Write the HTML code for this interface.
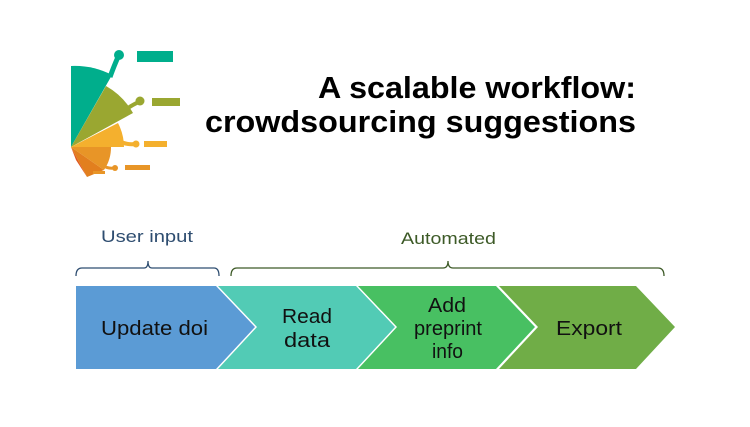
<!DOCTYPE html>
<html><head><style>
body{margin:0;width:750px;height:422px;background:#fff;overflow:hidden;font-family:"Liberation Sans",sans-serif}
</style></head><body>
<svg width="750" height="422" viewBox="0 0 750 422" xmlns="http://www.w3.org/2000/svg">
<g>
<path d="M71,147 L71,66 A81,81 0 0 1 112,75 Z" fill="#00ae8c"/>
<path d="M110,77 Q114,66 118,57" stroke="#00ae8c" stroke-width="5" fill="none"/>
<circle cx="119" cy="55" r="5" fill="#00ae8c"/>
<path d="M71,147 L106,86 A71,71 0 0 1 133,113 Z" fill="#9aa731"/>
<path d="M128,108 Q134,104 139,102" stroke="#9aa731" stroke-width="4" fill="none"/>
<circle cx="140" cy="101" r="4.5" fill="#9aa731"/>
<path d="M71,147 L118,123 A53,53 0 0 1 124,147 Z" fill="#f4b02e"/>
<path d="M121,142 Q128,145 135,144" stroke="#f4b02e" stroke-width="4" fill="none"/>
<circle cx="136" cy="144" r="3.5" fill="#f4b02e"/>
<path d="M71,147 L111,147 A40,40 0 0 1 104,170 Z" fill="#e89527"/>
<path d="M71,147 L104,170 L87,177 Z" fill="#e27f1e"/>
<path d="M71,147 L87,177 L76,160 Z" fill="#e05a1f"/>
<path d="M102,165 Q108,169 114,168" stroke="#e89527" stroke-width="3" fill="none"/>
<circle cx="115" cy="168" r="3" fill="#e89527"/>
<rect x="137" y="51" width="36" height="11" fill="#00ae8c"/>
<rect x="152" y="98" width="28" height="8" fill="#9aa731"/>
<rect x="144" y="141" width="23" height="6" fill="#f4b02e"/>
<rect x="125" y="165" width="25" height="5" fill="#e89527"/>
<rect x="93" y="171" width="12" height="3" fill="#e89527"/>
</g>
<text x="636" y="98" text-anchor="end" font-size="31" font-weight="bold" fill="#000" textLength="318" lengthAdjust="spacingAndGlyphs">A scalable workflow:</text>
<text x="636" y="132" text-anchor="end" font-size="31" font-weight="bold" fill="#000" textLength="431" lengthAdjust="spacingAndGlyphs">crowdsourcing suggestions</text>
<text x="101" y="242" font-size="17" fill="#2e4d70" textLength="92" lengthAdjust="spacingAndGlyphs">User input</text>
<text x="401" y="244" font-size="17" fill="#3d5a27" textLength="95" lengthAdjust="spacingAndGlyphs">Automated</text>
<path d="M76,276 Q76,268 82,268 L144,268 Q148,268 148,261 Q148,268 152,268 L214,268 Q219,268 219,276" stroke="#2e4d70" stroke-width="1.3" fill="none"/>
<path d="M231,276 Q231,268 237,268 L443,268 Q448,268 448,261 Q448,268 453,268 L658,268 Q664,268 664,276" stroke="#3d5a27" stroke-width="1.3" fill="none"/>
<path d="M76,286 L216,286 L255,327 L216,369 L76,369 Z" fill="#5b9bd5"/>
<path d="M218,286 L356,286 L395,327 L356,369 L218,369 L257,327 Z" fill="#52cbb5"/>
<path d="M358,286 L496,286 L535,327 L496,369 L358,369 L397,327 Z" fill="#48c062"/>
<path d="M499,286 L636,286 L675,327 L636,369 L499,369 L538,327 Z" fill="#70ad47"/>
<g font-size="20" fill="#111" lengthAdjust="spacingAndGlyphs">
<text x="101" y="335" textLength="107" lengthAdjust="spacingAndGlyphs">Update doi</text>
<text x="282" y="323" textLength="50" lengthAdjust="spacingAndGlyphs">Read</text>
<text x="284" y="347" textLength="46" lengthAdjust="spacingAndGlyphs">data</text>
<text x="428" y="312" textLength="38" lengthAdjust="spacingAndGlyphs">Add</text>
<text x="414" y="335" textLength="68" lengthAdjust="spacingAndGlyphs">preprint</text>
<text x="432" y="358" textLength="31" lengthAdjust="spacingAndGlyphs">info</text>
<text x="556" y="335" textLength="66" lengthAdjust="spacingAndGlyphs">Export</text>
</g>
</svg>
</body></html>
